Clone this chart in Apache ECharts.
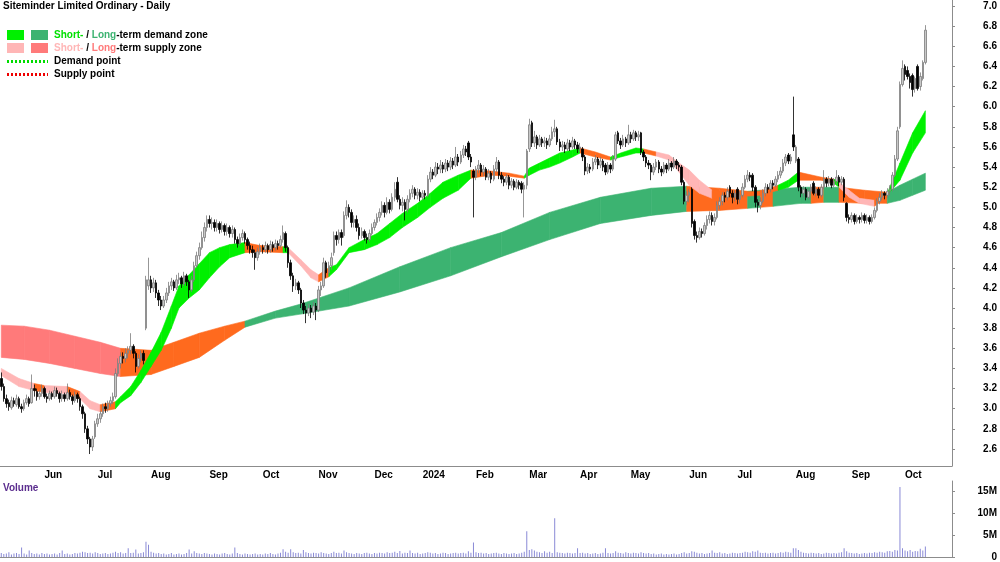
<!DOCTYPE html>
<html lang="en">
<head>
<meta charset="UTF-8">
<title>Siteminder Limited Ordinary - Daily</title>
<script src="https://cdn.jsdelivr.net/npm/echarts@6/dist/echarts.min.js"></script>
</head>
<body style="margin:0">
<div id="main" style="width:1000px;height:562px;"></div>
<script>
  // ASX trading days, first bar 9 May 2023
  const holidays = ['2023-06-12','2023-12-25','2023-12-26','2024-01-01','2024-01-26',
    '2024-03-29','2024-04-01','2024-04-25','2024-06-10'];
  const monthNames = ['Jan','Feb','Mar','Apr','May','Jun','Jul','Aug','Sep','Oct','Nov','Dec'];
  const priceTicks = [2.6,2.8,3.0,3.2,3.4,3.6,3.8,4.0,4.2,4.4,4.6,4.8,5.0,5.2,5.4,5.6,5.8,6.0,6.2,6.4,6.6,6.8,7.0];
  const volumeTicks = [0, 5e6, 10e6, 15e6];

  // [open, close, low, high]
  const ohlc = [
    [3.30,3.22,3.18,3.36],[3.22,3.10,3.07,3.25],[3.10,3.05,3.01,3.14],[3.06,3.02,2.98,3.09],[3.01,3.08,2.99,3.12],
    [3.08,3.05,3.02,3.11],[3.04,3.10,3.02,3.14],[3.10,3.02,3.00,3.12],[3.02,3.00,2.96,3.05],[3.00,3.06,2.98,3.09],
    [3.06,3.10,3.04,3.14],[3.10,3.05,3.02,3.12],[3.06,3.20,3.05,3.34],[3.20,3.18,3.12,3.24],[3.17,3.12,3.08,3.20],
    [3.12,3.15,3.09,3.18],[3.15,3.20,3.12,3.24],[3.20,3.12,3.10,3.22],[3.12,3.10,3.06,3.15],[3.10,3.15,3.08,3.18],
    [3.15,3.12,3.09,3.17],[3.12,3.18,3.10,3.22],[3.18,3.15,3.12,3.21],[3.15,3.10,3.06,3.17],[3.10,3.14,3.07,3.18],
    [3.14,3.10,3.07,3.16],[3.10,3.16,3.08,3.25],[3.16,3.12,3.09,3.19],[3.12,3.08,3.04,3.14],[3.08,3.14,3.06,3.17],
    [3.14,3.10,3.06,3.16],[3.10,3.02,2.98,3.12],[3.02,2.95,2.90,3.04],[2.95,2.80,2.76,2.97],[2.80,2.70,2.65,2.83],
    [2.70,2.62,2.55,2.72],[2.62,2.70,2.58,2.73],[2.72,2.85,2.70,2.88],[2.85,2.90,2.82,2.95],[2.90,2.95,2.86,2.98],
    [2.95,3.02,2.92,3.05],[3.02,3.00,2.96,3.06],[3.00,3.05,2.97,3.08],[3.05,3.08,3.02,3.12],[3.08,3.12,3.05,3.16],
    [3.12,3.35,3.10,3.40],[3.35,3.45,3.32,3.50],[3.45,3.52,3.40,3.56],[3.52,3.50,3.45,3.56],[3.50,3.55,3.46,3.60],
    [3.55,3.58,3.50,3.62],[3.58,3.62,3.54,3.75],[3.62,3.55,3.50,3.64],[3.55,3.42,3.36,3.57],[3.42,3.50,3.40,3.54],
    [3.50,3.55,3.46,3.58],[3.55,3.48,3.44,3.58],[3.80,4.28,3.78,4.32],[4.22,4.28,4.18,4.50],[4.28,4.20,4.15,4.32],
    [4.20,4.25,4.16,4.30],[4.25,4.15,4.10,4.28],[4.15,4.08,4.02,4.18],[4.08,4.02,3.98,4.12],[4.02,4.08,4.00,4.12],
    [4.08,4.15,4.05,4.20],[4.15,4.22,4.12,4.26],[4.22,4.26,4.18,4.30],[4.26,4.20,4.17,4.28],[4.20,4.28,4.18,4.33],
    [4.28,4.30,4.24,4.35],[4.30,4.24,4.20,4.32],[4.24,4.32,4.22,4.36],[4.32,4.26,4.22,4.34],[4.26,4.18,4.10,4.28],
    [4.18,4.28,4.16,4.32],[4.28,4.42,4.26,4.46],[4.42,4.52,4.40,4.56],[4.52,4.60,4.48,4.65],[4.60,4.70,4.58,4.76],
    [4.70,4.80,4.66,4.85],[4.80,4.88,4.76,4.92],[4.88,4.84,4.80,4.92],[4.84,4.85,4.78,4.90],[4.85,4.80,4.76,4.88],
    [4.80,4.84,4.76,4.88],[4.84,4.78,4.74,4.86],[4.78,4.82,4.75,4.86],[4.82,4.76,4.72,4.84],[4.76,4.80,4.72,4.84],
    [4.80,4.74,4.70,4.82],[4.74,4.78,4.70,4.82],[4.78,4.68,4.64,4.80],[4.68,4.64,4.60,4.71],[4.64,4.70,4.62,4.74],
    [4.70,4.74,4.67,4.78],[4.74,4.68,4.64,4.76],[4.68,4.62,4.58,4.70],[4.62,4.58,4.54,4.66],[4.58,4.55,4.50,4.62],
    [4.55,4.50,4.38,4.58],[4.50,4.56,4.47,4.60],[4.56,4.60,4.53,4.64],[4.60,4.58,4.54,4.63],[4.58,4.62,4.55,4.66],
    [4.62,4.58,4.54,4.64],[4.58,4.63,4.55,4.67],[4.63,4.60,4.56,4.66],[4.60,4.64,4.57,4.68],[4.64,4.62,4.58,4.67],
    [4.62,4.68,4.60,4.72],[4.68,4.75,4.65,4.82],[4.74,4.60,4.56,4.76],[4.60,4.45,4.40,4.62],[4.45,4.32,4.28,4.48],
    [4.32,4.22,4.16,4.35],[4.22,4.25,4.18,4.29],[4.25,4.18,4.14,4.27],[4.18,4.05,4.00,4.20],[4.05,3.98,3.94,4.08],
    [3.98,3.95,3.85,4.02],[3.95,4.00,3.92,4.04],[4.00,3.96,3.90,4.03],[3.96,4.02,3.93,4.06],[4.02,3.98,3.88,4.05],
    [3.98,4.18,3.96,4.22],[4.18,4.22,4.12,4.26],[4.22,4.45,4.20,4.50],[4.45,4.35,4.30,4.47],[4.35,4.42,4.32,4.46],
    [4.42,4.50,4.38,4.55],[4.55,4.72,4.52,4.76],[4.72,4.68,4.62,4.76],[4.68,4.75,4.64,4.78],[4.75,4.70,4.62,4.78],
    [4.72,4.92,4.70,4.96],[4.92,5.00,4.88,5.07],[5.00,4.95,4.90,5.03],[4.95,4.85,4.80,4.98],[4.85,4.88,4.80,4.92],
    [4.88,4.80,4.76,4.92],[4.80,4.72,4.68,4.84],[4.72,4.76,4.69,4.80],[4.76,4.70,4.67,4.78],[4.70,4.68,4.64,4.74],
    [4.68,4.74,4.66,4.78],[4.74,4.80,4.72,4.84],[4.80,4.85,4.77,4.88],[4.85,4.90,4.82,4.94],[4.90,4.95,4.86,4.99],
    [4.95,5.02,4.92,5.06],[5.02,4.95,4.90,5.05],[4.95,5.05,4.93,5.10],[5.05,4.98,4.94,5.08],[4.98,5.10,4.96,5.14],
    [5.10,5.18,5.06,5.25],[5.25,5.08,5.05,5.30],[5.08,5.02,4.98,5.12],[5.02,5.05,4.96,5.10],[5.05,4.98,4.87,5.08],
    [4.98,5.08,4.95,5.12],[5.08,5.14,5.05,5.18],[5.14,5.18,5.10,5.22],[5.18,5.12,5.08,5.20],[5.12,5.15,5.08,5.19],
    [5.15,5.10,5.06,5.18],[5.10,5.14,5.07,5.17],[5.14,5.12,5.08,5.17],[5.12,5.28,5.10,5.32],[5.28,5.35,5.25,5.40],
    [5.35,5.32,5.28,5.38],[5.32,5.40,5.30,5.45],[5.40,5.38,5.33,5.44],[5.38,5.42,5.34,5.47],[5.42,5.38,5.34,5.45],
    [5.38,5.44,5.35,5.48],[5.44,5.40,5.36,5.47],[5.40,5.46,5.37,5.50],[5.46,5.42,5.38,5.49],[5.42,5.50,5.40,5.60],
    [5.50,5.45,5.41,5.53],[5.45,5.52,5.43,5.56],[5.52,5.58,5.49,5.62],[5.58,5.55,5.51,5.61],[5.64,5.50,5.47,5.66],
    [5.50,5.45,5.40,5.53],[5.36,5.30,4.90,5.38],[5.30,5.38,5.27,5.41],[5.38,5.42,5.34,5.47],[5.42,5.35,5.31,5.44],
    [5.35,5.38,5.31,5.42],[5.38,5.30,5.27,5.40],[5.30,5.34,5.27,5.38],[5.34,5.28,5.24,5.36],[5.28,5.38,5.26,5.42],
    [5.38,5.45,5.35,5.50],[5.45,5.32,5.28,5.47],[5.32,5.28,5.24,5.35],[5.28,5.25,5.21,5.31],[5.25,5.30,5.22,5.33],
    [5.30,5.22,5.18,5.32],[5.22,5.26,5.19,5.29],[5.26,5.20,5.17,5.28],[5.20,5.25,5.18,5.28],[5.25,5.22,5.18,5.27],
    [5.24,5.18,5.14,5.26],[5.18,5.22,4.90,5.25],[5.22,5.56,5.18,5.58],[5.58,5.82,5.55,5.88],[5.84,5.64,5.60,5.86],
    [5.64,5.70,5.60,5.76],[5.70,5.62,5.58,5.72],[5.62,5.68,5.60,5.72],[5.68,5.64,5.60,5.70],[5.64,5.66,5.60,5.70],
    [5.66,5.62,5.58,5.69],[5.62,5.68,5.60,5.72],[5.68,5.75,5.66,5.80],[5.75,5.78,5.70,5.87],[5.78,5.65,5.62,5.80],
    [5.65,5.60,5.56,5.68],[5.60,5.62,5.56,5.66],[5.62,5.58,5.54,5.65],[5.58,5.64,5.56,5.68],[5.64,5.60,5.56,5.67],
    [5.60,5.66,5.58,5.70],[5.66,5.62,5.58,5.68],[5.62,5.58,5.54,5.65],[5.58,5.60,5.55,5.64],[5.58,5.50,5.46,5.60],
    [5.50,5.36,5.32,5.52],[5.36,5.40,5.33,5.44],[5.40,5.38,5.34,5.43],[5.38,5.45,5.36,5.49],[5.45,5.48,5.42,5.52],
    [5.48,5.42,5.38,5.50],[5.42,5.46,5.39,5.50],[5.46,5.40,5.36,5.48],[5.42,5.35,5.32,5.44],[5.35,5.42,5.33,5.45],
    [5.42,5.38,5.34,5.44],[5.38,5.48,5.36,5.52],[5.48,5.72,5.46,5.75],[5.74,5.66,5.63,5.76],[5.66,5.62,5.58,5.69],
    [5.62,5.68,5.60,5.72],[5.68,5.64,5.60,5.70],[5.64,5.72,5.62,5.82],[5.72,5.68,5.64,5.75],[5.68,5.74,5.66,5.77],
    [5.74,5.70,5.66,5.76],[5.70,5.72,5.66,5.76],[5.74,5.55,5.52,5.75],[5.55,5.50,5.46,5.57],[5.50,5.44,5.40,5.52],
    [5.44,5.42,5.38,5.47],[5.42,5.35,5.27,5.44],[5.35,5.40,5.32,5.44],[5.40,5.45,5.37,5.48],[5.45,5.38,5.34,5.47],
    [5.38,5.35,5.31,5.41],[5.35,5.42,5.33,5.45],[5.42,5.38,5.34,5.44],[5.38,5.44,5.36,5.48],[5.44,5.40,5.36,5.46],
    [5.40,5.46,5.38,5.50],[5.46,5.42,5.38,5.48],[5.42,5.40,5.36,5.45],[5.40,5.25,5.22,5.42],[5.25,5.06,5.03,5.27],
    [5.06,5.12,5.02,5.16],[5.12,5.15,5.05,5.18],[5.18,4.84,4.80,5.20],[4.86,4.72,4.68,4.88],[4.72,4.70,4.65,4.76],
    [4.70,4.76,4.68,4.80],[4.76,4.74,4.70,4.79],[4.74,4.82,4.72,4.85],[4.82,4.88,4.78,4.92],[4.88,4.92,4.84,4.96],
    [4.92,4.86,4.82,4.95],[4.86,4.90,4.82,4.94],[4.90,5.02,4.88,5.06],[5.02,5.06,4.98,5.10],[5.06,5.12,5.02,5.15],
    [5.12,5.10,5.05,5.15],[5.10,5.16,5.07,5.20],[5.20,5.14,5.10,5.22],[5.14,5.10,5.04,5.17],[5.10,5.14,5.06,5.17],
    [5.18,5.08,5.03,5.20],[5.08,5.12,5.04,5.16],[5.12,5.20,5.10,5.24],[5.20,5.28,5.18,5.32],[5.28,5.32,5.25,5.37],
    [5.32,5.30,5.26,5.35],[5.32,5.20,5.16,5.34],[5.20,5.05,5.00,5.22],[5.05,5.02,4.95,5.08],[5.02,5.06,4.98,5.10],
    [5.06,5.14,5.04,5.18],[5.14,5.20,5.11,5.24],[5.20,5.18,5.14,5.23],[5.18,5.24,5.15,5.27],[5.24,5.22,5.18,5.27],
    [5.22,5.28,5.20,5.31],[5.28,5.32,5.25,5.36],[5.32,5.36,5.29,5.40],[5.36,5.44,5.34,5.48],[5.44,5.50,5.41,5.53],
    [5.52,5.46,5.43,5.54],[5.46,5.50,5.43,5.53],[5.72,5.60,5.56,6.10],[5.46,5.60,5.44,5.62],[5.48,5.20,5.16,5.50],
    [5.20,5.14,5.10,5.22],[5.14,5.18,5.10,5.21],[5.18,5.10,5.07,5.20],[5.10,5.16,5.08,5.19],[5.16,5.20,5.13,5.23],
    [5.24,5.14,5.12,5.26],[5.14,5.18,5.11,5.21],[5.18,5.12,5.09,5.20],[5.12,5.20,5.10,5.23],[5.20,5.28,5.18,5.37],
    [5.28,5.24,5.20,5.30],[5.24,5.28,5.21,5.31],[5.28,5.22,5.19,5.30],[5.22,5.26,5.20,5.29],[5.26,5.30,5.23,5.37],
    [5.30,5.25,5.21,5.32],[5.25,5.28,5.22,5.31],[5.28,5.10,5.06,5.30],[5.04,4.90,4.86,5.05],[4.90,4.88,4.84,4.93],
    [4.88,4.92,4.85,4.95],[4.92,4.86,4.83,4.94],[4.86,4.90,4.84,4.93],[4.90,4.88,4.84,4.92],[4.88,4.92,4.85,4.95],
    [4.92,4.87,4.84,4.94],[4.87,4.90,4.84,4.93],[4.90,4.86,4.83,4.92],[4.86,4.90,4.84,4.93],[4.90,4.97,4.88,5.00],
    [4.97,5.06,4.95,5.09],[5.06,5.10,5.03,5.14],[5.10,5.14,5.07,5.17],[5.14,5.12,5.08,5.16],[5.12,5.16,5.09,5.19],
    [5.16,5.18,5.12,5.22],[5.18,5.32,5.16,5.35],[5.32,5.48,5.30,5.52],[5.48,5.76,5.46,5.80],[5.80,6.22,5.78,6.25],
    [6.22,6.38,6.20,6.46],[6.40,6.32,6.26,6.42],[6.36,6.30,6.27,6.40],[6.30,6.24,6.18,6.33],[6.31,6.17,6.10,6.33],
    [6.18,6.28,6.14,6.30],[6.40,6.18,6.16,6.42],[6.20,6.30,6.16,6.34],[6.28,6.44,6.26,6.46],[6.44,6.76,6.42,6.81]
  ];

  // millions of shares
  const volume = [
    0.9,0.7,0.8,1.1,0.6,0.8,0.9,0.7,2.2,0.8,0.6,1.5,0.9,0.7,0.8,0.6,0.9,0.7,0.8,0.6,
    0.7,0.8,0.6,0.9,1.5,0.7,0.8,0.6,0.7,0.9,0.8,1.0,1.2,1.1,0.9,1.0,0.8,1.1,0.9,0.7,
    0.8,0.9,0.7,0.8,1.0,1.2,0.9,1.1,0.8,0.9,2.0,0.9,1.0,1.7,0.8,0.9,1.1,3.5,2.8,1.2,
    1.0,0.8,0.9,0.7,0.8,0.6,0.7,0.9,0.6,0.7,0.8,0.6,0.7,0.9,1.7,0.8,1.3,0.9,0.8,0.7,
    0.9,0.8,0.7,0.6,0.8,0.7,0.6,0.8,0.9,0.7,0.6,0.8,2.2,0.9,0.7,0.6,0.8,0.7,0.6,0.7,
    0.8,0.6,0.7,0.6,0.8,0.7,0.9,0.7,0.6,0.8,1.0,1.8,1.2,1.0,1.8,1.1,0.9,1.0,0.8,1.6,
    1.1,0.9,0.8,1.0,0.9,0.8,1.1,0.9,0.8,0.7,0.9,1.2,0.9,1.0,0.8,1.5,1.1,0.9,0.8,0.7,
    0.9,0.8,0.7,0.9,1.0,0.8,0.7,0.9,0.8,1.0,0.9,0.8,1.1,0.9,1.0,1.2,0.9,1.4,0.8,1.0,
    0.9,1.5,0.9,0.8,1.0,0.7,0.8,0.9,1.1,1.0,0.8,0.9,0.7,0.8,1.0,0.9,0.7,0.8,0.9,1.0,
    0.8,0.9,1.0,0.8,1.3,1.0,3.3,1.1,0.9,1.0,0.8,0.9,0.7,0.8,0.9,1.0,0.8,0.7,0.9,0.8,
    0.7,0.8,0.9,0.7,0.8,1.0,1.2,5.9,1.6,1.8,1.5,1.2,1.1,0.9,1.3,1.0,1.2,0.9,8.9,1.1,
    1.0,0.9,0.8,1.0,0.9,0.8,0.9,2.0,0.9,1.0,0.8,0.9,0.7,0.8,0.9,0.7,0.8,1.0,2.0,0.9,
    0.8,0.9,1.3,1.0,0.9,0.8,1.1,0.9,0.8,1.0,0.9,0.8,1.1,0.9,0.8,0.9,0.7,0.8,0.6,0.7,
    0.8,0.6,0.7,0.6,0.7,0.8,0.6,0.7,0.9,1.1,0.8,0.9,1.3,1.2,1.0,0.8,0.9,0.7,0.8,0.9,
    1.5,1.0,0.9,1.1,0.8,0.9,0.7,0.8,1.0,0.9,0.8,0.9,1.0,1.2,1.1,1.0,1.3,1.2,1.5,1.0,
    0.9,1.0,0.8,0.9,1.0,0.8,0.9,1.1,1.0,1.2,1.1,1.0,2.0,2.0,1.6,1.2,1.0,0.9,0.8,1.0,
    0.9,0.8,0.9,0.7,0.8,1.0,0.9,0.8,0.9,0.8,1.0,1.1,2.0,1.3,1.0,0.9,0.8,0.9,0.7,0.8,
    0.9,0.8,1.0,0.9,1.1,1.0,1.2,1.1,1.0,1.3,1.4,1.2,1.6,1.5,16.0,2.0,1.5,1.3,1.6,1.2,
    1.4,1.3,1.9,1.5,2.4
  ];

  // zones: [bar index, lower, upper, state of the stretch that starts here]
  // S = supply, D = demand, N = price inside the zone
  const longZone = [
    [0,3.51,3.83,'S'],[9,3.49,3.82,'S'],[19,3.45,3.78,'S'],[29,3.40,3.72,'S'],[39,3.35,3.66,'S'],
    [47,3.32,3.60,'N'],[59,3.34,3.58,'N'],[68,3.42,3.66,'N'],[78,3.51,3.75,'N'],[88,3.68,3.82,'N'],
    [96,3.81,3.87,'D'],[108,3.90,3.97,'D'],[118,3.94,4.04,'D'],[137,4.02,4.20,'D'],[157,4.16,4.41,'D'],
    [177,4.32,4.60,'D'],[197,4.51,4.75,'D'],[216,4.68,4.95,'D'],[236,4.84,5.10,'D'],[256,4.92,5.19,'D'],
    [270,4.96,5.21,'N'],[283,4.97,5.19,'N'],[294,4.99,5.16,'D'],[299,5.00,5.17,'N'],[304,5.01,5.18,'D'],
    [315,5.04,5.20,'D'],[319,5.04,5.20,'N'],[324,5.05,5.20,'D'],[330,5.05,5.20,'N'],[340,5.04,5.17,'N'],
    [349,5.04,5.15,'D'],[354,5.07,5.22,'D'],[359,5.12,5.28,'D'],[364,5.17,5.34,'D']
  ];
  const shortZone = [
    [0,3.33,3.40,'S'],[7,3.22,3.30,'S'],[13,3.18,3.25,'N'],[17,3.16,3.23,'S'],[26,3.15,3.22,'N'],
    [31,3.10,3.17,'S'],[35,3.00,3.08,'S'],[39,2.97,3.04,'N'],[45,3.00,3.07,'D'],[47,3.06,3.12,'D'],
    [51,3.13,3.22,'D'],[55,3.26,3.38,'D'],[59,3.42,3.56,'D'],[63,3.58,3.76,'D'],[67,3.80,4.02,'D'],
    [70,4.00,4.22,'D'],[74,4.10,4.33,'D'],[78,4.18,4.44,'D'],[82,4.30,4.55,'D'],[86,4.41,4.60,'D'],
    [90,4.50,4.63,'D'],[96,4.55,4.65,'N'],[102,4.56,4.62,'N'],[111,4.55,4.61,'D'],[113,4.55,4.60,'S'],
    [118,4.42,4.48,'S'],[122,4.30,4.38,'S'],[125,4.26,4.33,'N'],[129,4.31,4.40,'D'],[132,4.38,4.43,'D'],
    [137,4.55,4.60,'D'],[143,4.58,4.68,'D'],[148,4.63,4.74,'D'],[153,4.70,4.84,'D'],[158,4.80,4.94,'D'],
    [164,4.90,5.04,'D'],[169,5.00,5.14,'D'],[174,5.09,5.25,'D'],[180,5.17,5.32,'D'],[185,5.29,5.37,'N'],
    [193,5.32,5.36,'N'],[200,5.31,5.34,'N'],[206,5.29,5.31,'D'],[208,5.32,5.39,'D'],[212,5.37,5.44,'D'],
    [216,5.40,5.49,'D'],[220,5.44,5.54,'D'],[225,5.50,5.57,'D'],[228,5.54,5.59,'N'],[234,5.50,5.55,'N'],
    [240,5.47,5.50,'D'],[244,5.50,5.54,'D'],[250,5.54,5.59,'D'],[253,5.54,5.58,'N'],[258,5.51,5.55,'S'],
    [263,5.47,5.52,'S'],[267,5.35,5.44,'S'],[271,5.22,5.37,'S'],[275,5.14,5.27,'S'],[280,5.09,5.17,'N'],
    [287,5.10,5.15,'N'],[299,5.12,5.16,'N'],[306,5.17,5.22,'D'],[310,5.20,5.27,'D'],[314,5.27,5.35,'N'],
    [323,5.27,5.30,'N'],[328,5.24,5.28,'D'],[330,5.20,5.25,'S'],[334,5.10,5.17,'S'],[338,5.04,5.09,'S'],
    [344,5.01,5.07,'N'],[349,5.12,5.14,'D'],[354,5.27,5.44,'D'],[359,5.54,5.74,'D'],[364,5.74,5.96,'D']
  ];

  const font = 'Liberation Sans, Arial, sans-serif';
  const gray = '#8c8c8c';
  const shortColors = { D: '#00f000', S: '#ffb6b6', N: '#ff6a1e' };
  const longColors = { D: '#3cb371', S: '#ff7a7a', N: '#ff6a1e' };

  const dates = [];
  for (let d = new Date(Date.UTC(2023, 4, 9)); dates.length < ohlc.length + 10; d.setUTCDate(d.getUTCDate() + 1)) {
    const s = d.toISOString().slice(0, 10);
    const wd = d.getUTCDay();
    if (wd === 0 || wd === 6 || holidays.includes(s)) continue;
    dates.push(s);
  }
  const monthStart = dates.map((s, i) => i > 0 && s.slice(5, 7) !== dates[i - 1].slice(5, 7));
  const showMonth = (index) => monthStart[index];

  function zoneSeries(zone, colors, z) {
    const segs = [];
    for (let k = 0; k < zone.length - 1; k++) {
      const a = zone[k], b = zone[k + 1];
      segs.push([a[0], a[1], a[2], b[0], b[1], b[2]]);
    }
    return {
      type: 'custom',
      xAxisIndex: 0,
      yAxisIndex: 0,
      z: z,
      silent: true,
      clip: true,
      encode: { x: [0, 3], y: [1, 2, 4, 5] },
      data: segs,
      renderItem: function (params, api) {
        const c = colors[zone[params.dataIndex][3]];
        const pts = [
          api.coord([api.value(0), api.value(1)]),
          api.coord([api.value(0), api.value(2)]),
          api.coord([api.value(3), api.value(5)]),
          api.coord([api.value(3), api.value(4)])
        ];
        return { type: 'polygon', shape: { points: pts }, style: { fill: c, stroke: c, lineWidth: 0.6 } };
      }
    };
  }

  const myChart = echarts.init(document.getElementById('main'));
  const labelStyle = { fontFamily: font, fontSize: 10, fontWeight: 'bold', color: '#000' };
  const option = {
    animation: false,
    backgroundColor: '#fff',
    title: [
      { text: 'Siteminder Limited Ordinary - Daily', left: 3, top: 1, padding: 0, textStyle: labelStyle },
      { text: 'Volume', left: 3, top: 483, padding: 0, textStyle: Object.assign({}, labelStyle, { color: '#5b2d8e' }) }
    ],
    grid: [
      { left: 0, right: 48, top: 0, height: 466 },
      { left: 0, right: 48, top: 481, height: 80 }
    ],
    xAxis: [
      {
        type: 'category', gridIndex: 0, data: dates, boundaryGap: true,
        axisLine: { lineStyle: { color: gray } },
        axisTick: { alignWithLabel: true, interval: showMonth, length: 3, lineStyle: { color: gray } },
        axisLabel: Object.assign({
          interval: showMonth, align: 'left', margin: 4,
          formatter: (v) => v.slice(5, 7) === '01' ? v.slice(0, 4) : monthNames[+v.slice(5, 7) - 1]
        }, labelStyle),
        splitLine: { show: false }
      },
      {
        type: 'category', gridIndex: 1, data: dates, position: 'top',
        axisLine: { lineStyle: { color: gray } },
        axisTick: { show: false }, axisLabel: { show: false }, splitLine: { show: false }
      }
    ],
    yAxis: [
      {
        type: 'value', gridIndex: 0, position: 'right', min: 2.4311, max: 7.0596, scale: true,
        axisLine: { show: true, lineStyle: { color: gray } },
        axisTick: { show: true, length: 3, customValues: priceTicks, lineStyle: { color: gray } },
        axisLabel: Object.assign({ customValues: priceTicks, align: 'right', margin: 45,
          formatter: (v) => v.toFixed(1) }, labelStyle),
        splitLine: { show: false }
      },
      {
        type: 'value', gridIndex: 1, position: 'right', min: 0, max: 17.4e6,
        axisLine: { show: true, lineStyle: { color: gray } },
        axisTick: { show: true, length: 3, customValues: volumeTicks, lineStyle: { color: gray } },
        axisLabel: Object.assign({ customValues: volumeTicks, align: 'right', margin: 45,
          formatter: (v) => v === 0 ? '0' : (v / 1e6) + 'M' }, labelStyle),
        splitLine: { show: false }
      }
    ],
    series: [
      zoneSeries(longZone, longColors, 1),
      zoneSeries(shortZone, shortColors, 2),
      {
        type: 'candlestick', xAxisIndex: 0, yAxisIndex: 0, z: 3, barWidth: 2,
        data: ohlc,
        itemStyle: { color: '#c8c8c8', color0: '#000', borderColor: '#7c7c7c', borderColor0: '#000', borderWidth: 0.8 }
      },
      {
        type: 'bar', xAxisIndex: 1, yAxisIndex: 1, barWidth: 1,
        data: volume.map((v) => v * 1e6),
        itemStyle: { color: '#8a8ad6' }
      }
    ],
    graphic: [
      { type: 'rect', shape: { x: 7, y: 30, width: 17, height: 10 }, style: { fill: shortColors.D } },
      { type: 'rect', shape: { x: 31, y: 30, width: 17, height: 10 }, style: { fill: longColors.D } },
      { type: 'rect', shape: { x: 7, y: 43, width: 17, height: 10 }, style: { fill: shortColors.S } },
      { type: 'rect', shape: { x: 31, y: 43, width: 17, height: 10 }, style: { fill: longColors.S } },
      { type: 'line', shape: { x1: 7, y1: 61.5, x2: 48, y2: 61.5 }, style: { stroke: '#00dd00', lineWidth: 3, lineDash: [2, 2] } },
      { type: 'line', shape: { x1: 7, y1: 74.5, x2: 48, y2: 74.5 }, style: { stroke: '#ee0000', lineWidth: 3, lineDash: [2, 2] } },
      {
        type: 'text', x: 54, y: 35,
        style: {
          text: '{a|Short-} / {b|Long}-term demand zone', fill: '#000', font: 'bold 10px ' + font, verticalAlign: 'middle',
          rich: { a: { fill: '#00e000', fontWeight: 'bold', fontSize: 10, fontFamily: font },
                  b: { fill: longColors.D, fontWeight: 'bold', fontSize: 10, fontFamily: font } }
        }
      },
      {
        type: 'text', x: 54, y: 48,
        style: {
          text: '{a|Short-} / {b|Long}-term supply zone', fill: '#000', font: 'bold 10px ' + font, verticalAlign: 'middle',
          rich: { a: { fill: shortColors.S, fontWeight: 'bold', fontSize: 10, fontFamily: font },
                  b: { fill: longColors.S, fontWeight: 'bold', fontSize: 10, fontFamily: font } }
        }
      },
      { type: 'text', x: 54, y: 61.5, style: { text: 'Demand point', fill: '#000', font: 'bold 10px ' + font, verticalAlign: 'middle' } },
      { type: 'text', x: 54, y: 74.5, style: { text: 'Supply point', fill: '#000', font: 'bold 10px ' + font, verticalAlign: 'middle' } }
    ]
  };
  myChart.setOption(option);
</script>
</body>
</html>
